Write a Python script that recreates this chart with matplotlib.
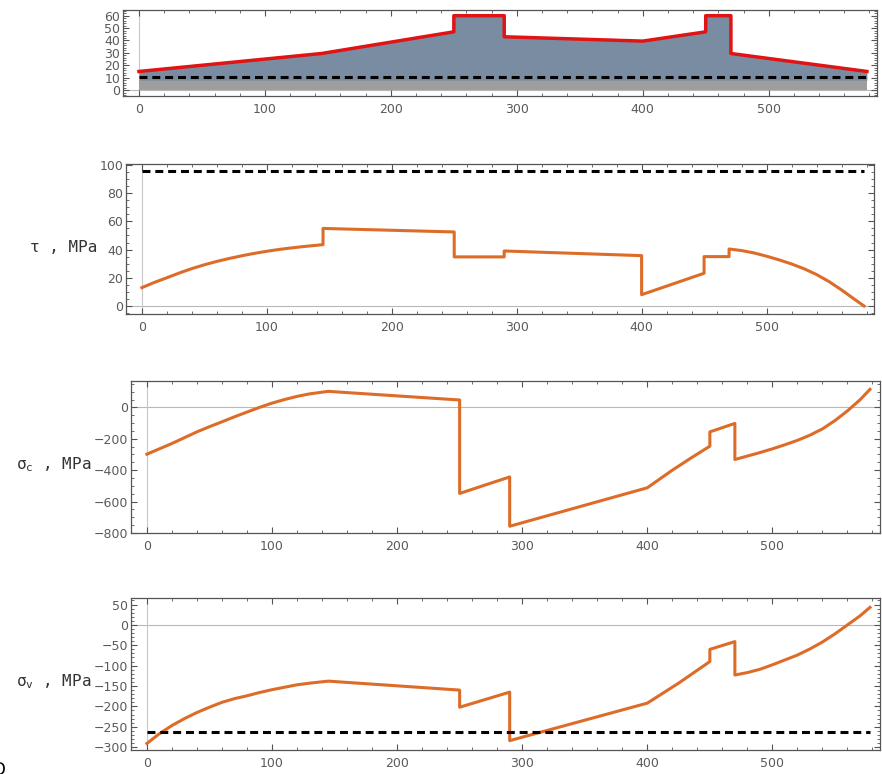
import matplotlib.pyplot as plt
from matplotlib.ticker import MultipleLocator

W, H = 882, 774

# thickness profile (top panel)
prof_x = [0, 145, 250, 250, 290, 290, 400, 450, 450, 470, 470, 578]
prof_y = [15, 29.5, 47, 60, 60, 43, 39.5, 47, 60, 60, 29.5, 15]
base_level = 8
prof_limit = 10.5

# shear stress tau
tau_x = [0, 10, 20, 30, 40, 50, 60, 70, 80, 90, 100, 110, 120, 130, 145, 145,
         250, 250, 290, 290, 400, 400, 450, 450, 470, 470,
         480, 490, 500, 510, 520, 530, 540, 550, 560, 570, 578]
tau_y = [13, 16.7, 20, 23.4, 26.5, 29.2, 31.6, 33.7, 35.6, 37.3, 38.8, 40.1, 41.2, 42.2, 43.5, 55,
         52.5, 34.8, 34.8, 39, 35.7, 8, 23.2, 35, 35, 40.4,
         39.3, 37.6, 35.3, 32.7, 29.8, 26.4, 22.3, 17.3, 11.4, 5, 0]
tau_limit = 95.5

# sigma c
sc_x = [0, 10, 20, 30, 40, 50, 60, 70, 80, 90, 100, 110, 120, 130, 145,
        250, 250, 290, 290, 400, 420, 435, 450, 450, 470, 470,
        480, 490, 500, 510, 520, 530, 540, 550, 560, 570, 578]
sc_y = [-298, -264, -230, -193, -156, -123, -92, -60, -30, 0, 27, 50, 70, 86, 102,
        47, -548, -443, -757, -512, -400, -322, -247, -156, -102, -332,
        -310, -288, -264, -238, -210, -177, -137, -84, -22, 48, 115]

# sigma v
sv_x = [0, 10, 20, 30, 40, 50, 60, 70, 80, 90, 100, 110, 120, 130, 145,
        250, 250, 290, 290, 400, 425, 450, 450, 470, 470,
        480, 490, 500, 510, 520, 530, 540, 550, 560, 570, 578]
sv_y = [-291, -267, -247, -230, -215, -202, -190, -181, -174, -166, -159, -153, -147, -143, -138,
        -160, -202, -165, -284, -192, -143, -90, -60, -41, -123,
        -117, -109, -98, -86, -74, -59, -42, -22, 0, 22, 43]
sv_limit = -262

orange = '#dc6c28'
frame_c = '#555555'
tick_c = '#5a5a5a'

fig = plt.figure(figsize=(W / 100, H / 100), dpi=100)


def px_axes(l, t, r, b):
    return fig.add_axes([l / W, 1 - b / H, (r - l) / W, (b - t) / H])


def style(ax, ylim, ymaj, ymin_):
    ax.set_xlim(-12.7, 586)
    ax.set_ylim(*ylim)
    ax.xaxis.set_major_locator(MultipleLocator(100))
    ax.xaxis.set_minor_locator(MultipleLocator(20))
    ax.yaxis.set_major_locator(MultipleLocator(ymaj))
    ax.yaxis.set_minor_locator(MultipleLocator(ymin_))
    ax.tick_params(which='both', direction='in', top=True, right=True,
                   color=frame_c, labelcolor=tick_c, labelsize=9)
    ax.tick_params(which='major', length=4.5, width=0.8)
    ax.tick_params(which='minor', length=2.3, width=0.6)
    ax.tick_params(axis='x', pad=5)
    ax.tick_params(axis='y', pad=2)
    for s in ax.spines.values():
        s.set_color(frame_c)
        s.set_linewidth(0.9)
    ax.axhline(0, color='#b8b8b8', lw=0.8, zorder=0)
    ax.axvline(0, color='#c8c8c8', lw=0.8, zorder=0)


dash = dict(color='black', lw=2.2, dashes=(2.6, 1.6))

# top panel
ax1 = px_axes(123, 10, 877, 96)
style(ax1, (-4.8, 64.6), 10, 2)
ax1.fill_between([prof_x[0], prof_x[-1]], 0, base_level, color='#9e9e9e', lw=0, zorder=1)
ax1.fill_between(prof_x, base_level, prof_y, color='#7a8ca1', lw=0, zorder=1)
ax1.plot(prof_x, prof_y, color='#e01414', lw=2.5, zorder=3)
ax1.plot([prof_x[0], prof_x[-1]], [prof_limit, prof_limit], zorder=2, **dash)

# tau
ax2 = px_axes(126, 164, 874, 314)
style(ax2, (-5.7, 100.7), 20, 5)
ax2.plot(tau_x, tau_y, color=orange, lw=2.2)
ax2.plot([tau_x[0], tau_x[-1]], [tau_limit, tau_limit], **dash)

# sigma c
ax3 = px_axes(131, 381, 880, 533)
style(ax3, (-800, 168), 200, 50)
ax3.plot(sc_x, sc_y, color=orange, lw=2.2)

# sigma v
ax4 = px_axes(131, 598, 880, 750)
style(ax4, (-307, 66), 50, 10)
ax4.plot(sv_x, sv_y, color=orange, lw=2.2)
ax4.plot([sv_x[0], sv_x[-1]], [sv_limit, sv_limit], **dash)

lab = dict(fontsize=11.5, family='DejaVu Sans Mono', color='#333333', ha='right', va='center')
fig.text(97 / W, 1 - 247 / H, 'τ , MPa', **lab)
fig.text(91 / W, 1 - 465 / H, r'σ$_{\mathregular{c}}$ , MPa', **lab)
fig.text(91 / W, 1 - 682 / H, r'σ$_{\mathregular{v}}$ , MPa', **lab)
fig.text(5 / W, -5 / H, 'D', fontsize=12, color='black', ha='right', va='bottom')

fig.savefig('out.png', dpi=100)
